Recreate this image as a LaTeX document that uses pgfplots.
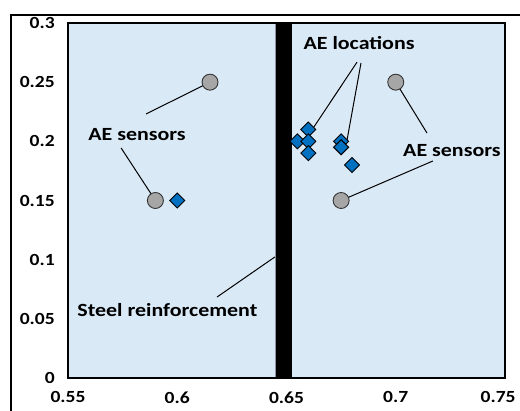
\documentclass[border=0pt]{standalone}
\usepackage{pgfplots}
\pgfplotsset{compat=1.18}
\usepackage{fontspec}
\setmainfont{Carlito}
\definecolor{bgblue}{HTML}{DAE9F6}
\definecolor{aeblue}{HTML}{0070C0}
\definecolor{sgray}{HTML}{A6A6A6}
\begin{document}
\begin{tikzpicture}
\begin{axis}[
  scale only axis, width=437pt, height=355pt,
  xmin=0.55, xmax=0.75, ymin=0, ymax=0.3,
  xtick={0.55,0.6,0.65,0.7,0.75},
  xticklabels={0.55,0.6,0.65,0.7,{\hspace*{-12pt}0.75}},
  ytick={0,0.05,0.1,0.15,0.2,0.25,0.3},
  yticklabels={0,0.05,0.1,0.15,0.2,0.25,0.3},
  major tick length=0pt,
  axis background/.style={fill=bgblue},
  axis line style={line width=1.6pt},
  tick label style={font=\fontsize{17}{19}\selectfont\bfseries, xscale=1.15},
  xticklabel style={yshift=-10pt},
  yticklabel style={xshift=-8pt},
  clip=false,
]
% steel reinforcement
\addplot[fill=black, draw=none] coordinates {(0.645,0) (0.6525,0) (0.6525,0.3) (0.645,0.3)} \closedcycle;
% leader lines
\draw[line width=1pt] (axis cs:0.5857,0.2231) -- (axis cs:0.615,0.25);
\draw[line width=1pt] (axis cs:0.5743,0.1944) -- (axis cs:0.59,0.15);
\draw[line width=1pt] (axis cs:0.6823,0.2670) -- (axis cs:0.6625,0.212);
\draw[line width=1pt] (axis cs:0.6841,0.2662) -- (axis cs:0.6775,0.199);
\draw[line width=1pt] (axis cs:0.70,0.25) -- (axis cs:0.7143,0.2070);
\draw[line width=1pt] (axis cs:0.7170,0.1834) -- (axis cs:0.675,0.15);
\draw[line width=1pt] (axis cs:0.6182,0.0684) -- (axis cs:0.6447,0.1023);
% AE sensors
\addplot[only marks, mark=*, mark size=8pt, mark options={fill=sgray, draw=black!80, line width=0.9pt}]
  coordinates {(0.615,0.25) (0.59,0.15) (0.70,0.25) (0.675,0.15)};
% AE locations
\addplot[only marks, mark=square*, mark size=5.3pt, mark options={rotate=45, fill=aeblue, draw=black, line width=0.9pt}]
  coordinates {(0.60,0.15) (0.66,0.21) (0.655,0.20) (0.66,0.20) (0.66,0.19) (0.675,0.20) (0.675,0.195) (0.68,0.18)};
% labels
\begin{scope}[every node/.style={font=\fontsize{18.6}{20}\selectfont\bfseries, xscale=1.18, inner sep=0pt}]
\node at (axis cs:0.5816,0.2054) {AE sensors};
\node at (axis cs:0.6832,0.2831) {AE locations};
\node at (axis cs:0.7257,0.1918) {AE sensors};
\node at (axis cs:0.5955,0.0575) {Steel reinforcement};
\end{scope}
\end{axis}
\draw[line width=1.6pt] (-57pt,-40pt) -- (-57pt,363pt) -- (460pt,363pt);
\pgfresetboundingbox
\useasboundingbox (-68pt,-33pt) rectangle (452pt,378pt);
\end{tikzpicture}
\end{document}
